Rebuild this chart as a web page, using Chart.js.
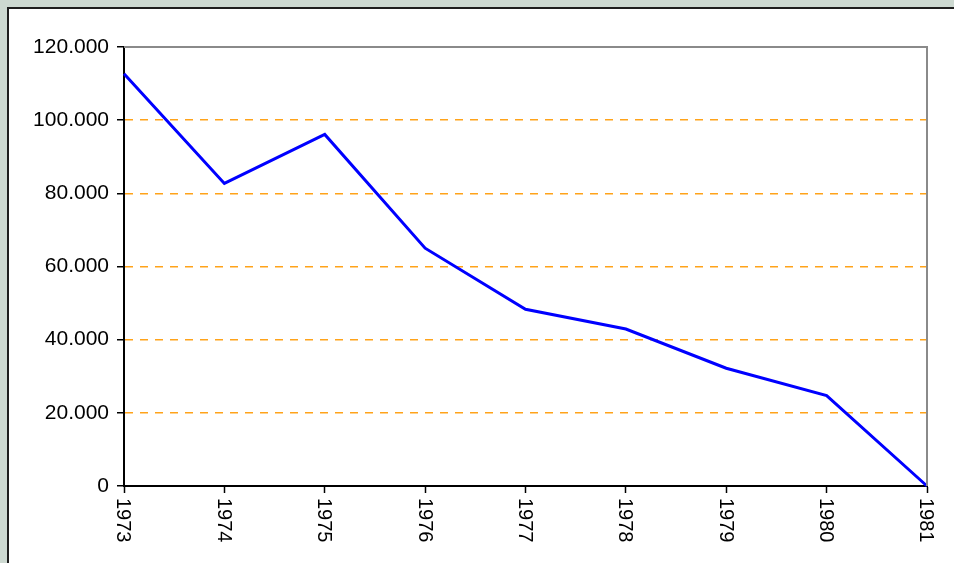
<!DOCTYPE html>
<html>
<head>
<meta charset="utf-8">
<script src="https://cdn.jsdelivr.net/npm/chart.js@4"></script>
<style>
    html, body { margin: 0; padding: 0; }
    body { width: 954px; height: 563px; background: #cdd9d1; position: relative; overflow: hidden; }
    .frame {
        position: absolute; left: 7px; top: 7px; width: 980px; height: 600px;
        background: #ffffff; border-left: 2px solid #1e1e1e; border-top: 2px solid #1e1e1e;
    }
    #wrap { position: absolute; left: 0; top: 0; width: 954px; height: 563px; }
</style>
</head>
<body>
<div class="frame"></div>
<div id="wrap"><canvas id="chart"></canvas></div>
<script>
// ── Data ─────────────────────────────────────────────────
const years = ['1973', '1974', '1975', '1976', '1977', '1978', '1979', '1980', '1981'];
const values = [112700, 82700, 96100, 65000, 48300, 42900, 32200, 24700, 0];
const yMax = 120000;
const yStep = 20000;

const FONT = '"Liberation Sans", Arial, sans-serif';

function formatThousands(v) {
    if (v === 0) return '0';
    return String(v).replace(/\B(?=(\d{3})+(?!\d))/g, '.');
}

// grey frame on top and right of the plot area
const plotFrame = {
    id: 'plotFrame',
    afterDatasetsDraw(chart) {
        const { ctx, chartArea: a } = chart;
        ctx.save();
        ctx.strokeStyle = '#8a8a8a';
        ctx.lineWidth = 2;
        ctx.beginPath();
        ctx.moveTo(a.left, a.top);
        ctx.lineTo(a.right, a.top);
        ctx.lineTo(a.right, a.bottom);
        ctx.stroke();
        ctx.restore();
    },
};

// year labels rotated to read top to bottom
const rotatedYears = {
    id: 'rotatedYears',
    afterDraw(chart) {
        const { ctx, chartArea: a } = chart;
        const x = chart.scales.x;
        ctx.save();
        ctx.fillStyle = '#000';
        ctx.font = `20px ${FONT}`;
        ctx.textAlign = 'left';
        ctx.textBaseline = 'middle';
        x.ticks.forEach((t, i) => {
            ctx.save();
            ctx.translate(x.getPixelForTick(i) - 1, a.bottom + 12);
            ctx.rotate(Math.PI / 2);
            ctx.fillText(x.getLabelForValue(t.value), 0, 0);
            ctx.restore();
        });
        ctx.restore();
    },
};

new Chart(document.getElementById('chart'), {
    type: 'line',
    data: {
        labels: years,
        datasets: [{
            data: values,
            borderColor: '#0000ff',
            borderWidth: 3,
            pointRadius: 0,
            tension: 0,
            fill: false,
            clip: false,
        }],
    },
    options: {
        responsive: true,
        maintainAspectRatio: false,
        animation: false,
        layout: { padding: { left: 0, top: 47, right: 27, bottom: 0 } },
        plugins: {
            legend: { display: false },
            tooltip: { enabled: false },
        },
        scales: {
            x: {
                offset: false,
                afterFit: s => { s.height = 77; },
                ticks: { display: false },
                grid: {
                    drawOnChartArea: false,
                    tickLength: 7,
                    tickColor: '#000',
                    tickWidth: 1.5,
                },
                border: { color: '#000', width: 2 },
            },
            y: {
                min: 0,
                max: yMax,
                afterFit: s => { s.width = 124; },
                ticks: {
                    stepSize: yStep,
                    padding: 8,
                    color: '#000',
                    font: { family: FONT, size: 21 },
                    callback: v => formatThousands(v),
                },
                grid: {
                    color: c => (c.tick && (c.tick.value === 0 || c.tick.value === yMax)) ? 'rgba(0,0,0,0)' : '#ffa31a',
                    lineWidth: 1.5,
                    tickLength: 7,
                    tickColor: '#000',
                    tickWidth: 1.5,
                },
                border: { color: '#000', width: 2, dash: [8, 7] },
            },
        },
    },
    plugins: [plotFrame, rotatedYears],
});
</script>
</body>
</html>
